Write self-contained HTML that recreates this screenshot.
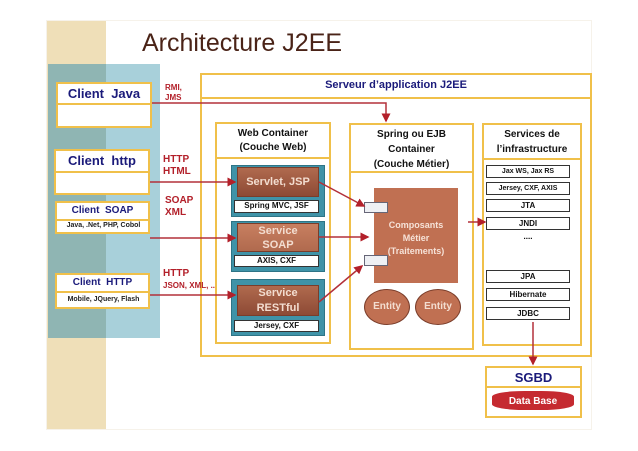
<!DOCTYPE html>
<html><head><meta charset="utf-8"><style>
body{margin:0;width:638px;height:451px;background:#fff;position:relative;overflow:hidden;font-family:"Liberation Sans",sans-serif;font-weight:bold}
div{position:absolute;box-sizing:border-box}
.y{border:2px solid #f0c04a;background:#fff}
.c{text-align:center}
.nav{color:#1a1a7a}
.red{color:#b3202a;z-index:5}
.br{background:linear-gradient(#b06a4e,#8d4a35);color:#f3ddd0;text-align:center;border:1px solid #7a3d2a}
.pn{background:#3f93a8;border:1px solid #2e7486}
.lb{background:#fff;border:1px solid #333;font-size:8px;text-align:center;color:#111;line-height:10px}
.it{border:1px solid #333;background:#fff;font-size:8px;text-align:center;line-height:11px;left:486px;width:84px;height:13px;color:#111}
</style></head><body>
<div style="left:46px;top:20px;width:60px;height:410px;background:#efdfb8"></div>
<div style="left:46px;top:20px;width:546px;height:410px;border:1px solid #f6f2ea"></div>
<div style="left:48px;top:64px;width:58px;height:274px;background:#8fb5b3"></div>
<div style="left:106px;top:64px;width:54px;height:274px;background:#a8d0da"></div>
<div style="left:92px;top:29px;width:300px;font-size:25px;font-weight:normal;color:#4a2317;text-align:center">Architecture J2EE</div>

<div class="y" style="left:56px;top:82px;width:96px;height:46px"><div class="y nav c" style="left:-2px;top:-2px;width:96px;height:23px;font-size:13px;line-height:19px">Client&nbsp; Java</div></div>
<div class="y" style="left:54px;top:149px;width:96px;height:46px"><div class="y nav c" style="left:-2px;top:-2px;width:96px;height:24px;font-size:13px;line-height:20px">Client&nbsp; http</div></div>
<div class="y" style="left:55px;top:201px;width:95px;height:33px"><div class="y nav c" style="left:-2px;top:-2px;width:95px;height:20px;font-size:10px;line-height:16px">Client&nbsp; SOAP</div><div style="left:0;top:19px;width:93px;font-size:7px;color:#222;text-align:center">Java, .Net, PHP, Cobol</div></div>
<div class="y" style="left:55px;top:273px;width:95px;height:36px"><div class="y nav c" style="left:-2px;top:-2px;width:95px;height:20px;font-size:10px;line-height:16px">Client&nbsp; HTTP</div><div style="left:0;top:21px;width:93px;font-size:7px;color:#222;text-align:center">Mobile, JQuery, Flash</div></div>

<div class="y" style="left:200px;top:73px;width:392px;height:284px"><div class="y nav c" style="left:-2px;top:-2px;width:392px;height:26px;font-size:11px;line-height:21px">Serveur d’application J2EE</div></div>

<div class="red" style="left:165px;top:83px;font-size:8px;line-height:10px">RMI,<br>JMS</div>
<div class="red" style="left:163px;top:154px;font-size:10px;line-height:12px">HTTP<br>HTML</div>
<div class="red" style="left:165px;top:195px;font-size:10px;line-height:12px">SOAP<br>XML</div>
<div class="red" style="left:163px;top:268px;font-size:10px;line-height:12px">HTTP</div>
<div class="red" style="left:163px;top:281px;font-size:8px;white-space:nowrap">JSON, XML, ..</div>

<div class="y" style="left:215px;top:122px;width:116px;height:222px"><div class="y c" style="left:-2px;top:-2px;width:116px;height:37px;font-size:10px;line-height:14px;padding-top:3px;color:#111">Web Container<br>(Couche Web)</div></div>
<div class="y" style="left:349px;top:123px;width:125px;height:227px"><div class="y c" style="left:-2px;top:-2px;width:125px;height:50px;font-size:10px;line-height:15px;padding-top:2px;color:#111">Spring ou EJB<br>Container<br>(Couche Métier)</div></div>
<div class="y" style="left:482px;top:123px;width:100px;height:223px"><div class="y c" style="left:-2px;top:-2px;width:100px;height:37px;font-size:10px;line-height:15px;padding-top:2px;color:#111">Services de<br>l’infrastructure</div></div>

<div class="pn" style="left:231px;top:165px;width:94px;height:52px"></div>
<div class="br" style="left:237px;top:167px;width:82px;height:30px;font-size:11px;line-height:28px">Servlet, JSP</div>
<div class="lb" style="left:234px;top:200px;width:85px;height:13px">Spring MVC, JSF</div>
<div class="pn" style="left:231px;top:221px;width:94px;height:51px"></div>
<div class="br" style="left:237px;top:223px;width:82px;height:29px;font-size:11px;line-height:14px;background:linear-gradient(#c87f60,#b06a4e)">Service<br>SOAP</div>
<div class="lb" style="left:234px;top:255px;width:85px;height:12px">AXIS, CXF</div>
<div class="pn" style="left:231px;top:279px;width:94px;height:57px"></div>
<div class="br" style="left:237px;top:285px;width:82px;height:31px;font-size:11px;line-height:15px">Service<br>RESTful</div>
<div class="lb" style="left:234px;top:320px;width:85px;height:12px">Jersey, CXF</div>

<div class="br" style="left:374px;top:188px;width:84px;height:95px;font-size:9px;line-height:13px;padding-top:31px;background:#c07052;border:none;color:#f6e2d8">Composants<br>Métier<br>(Traitements)</div>
<div style="left:364px;top:202px;width:24px;height:11px;background:#eef0f4;border:1px solid #667"></div>
<div style="left:364px;top:255px;width:24px;height:11px;background:#eef0f4;border:1px solid #667"></div>
<div class="br" style="left:364px;top:289px;width:46px;height:36px;border-radius:50%;font-size:10px;line-height:34px;background:#c07052">Entity</div>
<div class="br" style="left:415px;top:289px;width:46px;height:36px;border-radius:50%;font-size:10px;line-height:34px;background:#c07052">Entity</div>

<div class="it red" style="top:165px;font-size:7px">Jax WS, Jax RS</div>
<div class="it red" style="top:182px;font-size:7px">Jersey, CXF, AXIS</div>
<div class="it" style="top:199px">JTA</div>
<div class="it" style="top:217px">JNDI</div>
<div style="left:486px;top:232px;width:84px;text-align:center;font-size:8px">....</div>
<div class="it" style="top:270px">JPA</div>
<div class="it" style="top:288px">Hibernate</div>
<div class="it" style="top:307px">JDBC</div>

<div class="y" style="left:485px;top:366px;width:97px;height:52px"><div class="y nav c" style="left:-2px;top:-2px;width:97px;height:22px;font-size:13px;line-height:19px">SGBD</div></div>
<div style="left:492px;top:391px;width:82px;height:19px;background:#c52a30;border-radius:40%/30%;color:#fff;font-size:10px;text-align:center;line-height:21px">Data Base</div>

<svg width="638" height="451" style="position:absolute;left:0;top:0">
<defs><marker id="a" markerWidth="6" markerHeight="6" refX="5" refY="3" orient="auto"><path d="M0,0L6,3L0,6z" fill="#b3202a"/></marker></defs>
<g stroke="#b3303a" stroke-width="1.5" fill="none" marker-end="url(#a)">
<path d="M152,103H386V121"/>
<path d="M150,182H235"/>
<path d="M150,238H235"/>
<path d="M150,295H235"/>
<path d="M319,182L364,206"/>
<path d="M319,237L368,237"/>
<path d="M319,302L362,266"/>
<path d="M468,222H485"/>
<path d="M533,322V364"/>
</g></svg>
</body></html>
